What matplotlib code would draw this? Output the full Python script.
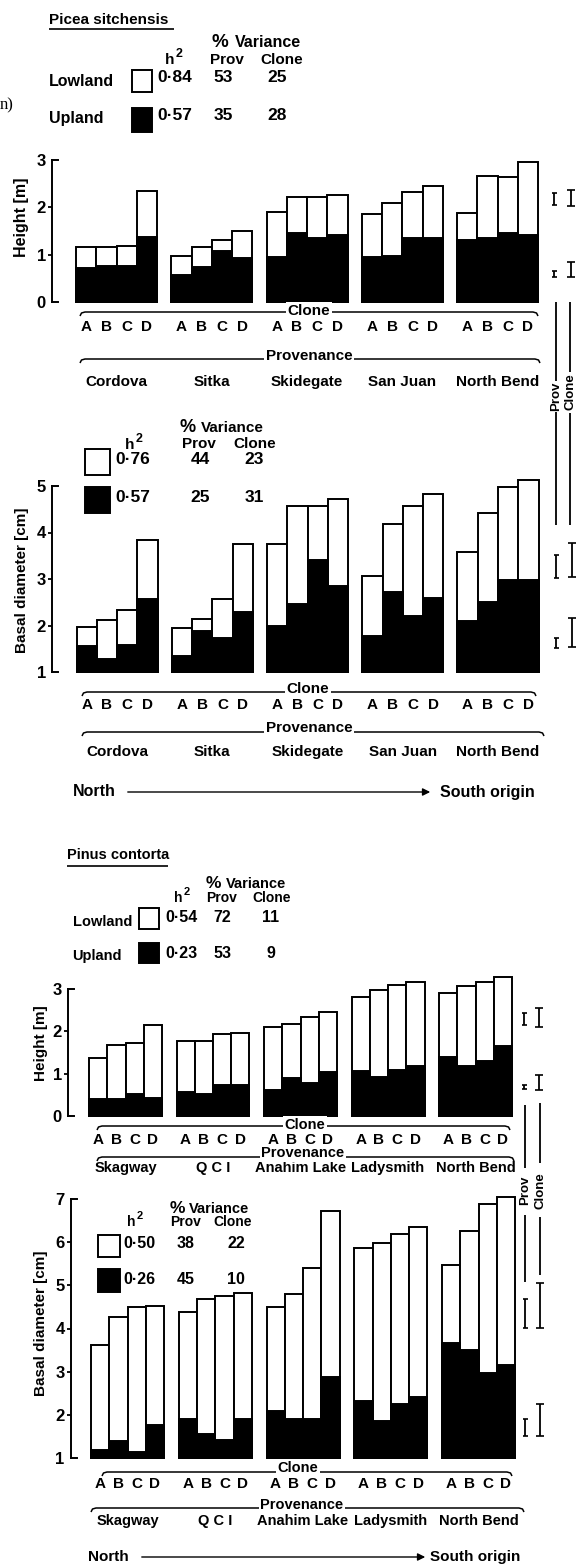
import numpy as np
import matplotlib
matplotlib.use("Agg")
import matplotlib.pyplot as plt
import matplotlib.transforms as mtransforms
from matplotlib.patches import Rectangle, FancyArrowPatch
from matplotlib.lines import Line2D

# ---------------- data ----------------
clones = ["A", "B", "C", "D"]
picea_provs = ["Cordova", "Sitka", "Skidegate", "San Juan", "North Bend"]
pinus_provs = ["Skagway", "Q C I", "Anahim Lake", "Ladysmith", "North Bend"]

picea_h_low = [[1.17, 1.17, 1.18, 2.35], [0.98, 1.16, 1.31, 1.50], [1.91, 2.21, 2.21, 2.26],
               [1.85, 2.10, 2.33, 2.46], [1.87, 2.66, 2.65, 2.96]]
picea_h_up = [[0.71, 0.75, 0.75, 1.37], [0.58, 0.74, 1.08, 0.94], [0.95, 1.45, 1.36, 1.41],
              [0.95, 0.97, 1.35, 1.35], [1.31, 1.35, 1.45, 1.42]]

picea_d_low = [[1.97, 2.12, 2.34, 3.83], [1.94, 2.15, 2.57, 3.76], [3.76, 4.57, 4.57, 4.72],
               [3.07, 4.18, 4.57, 4.82], [3.57, 4.41, 4.97, 5.13]]
picea_d_up = [[1.55, 1.29, 1.59, 2.57], [1.35, 1.89, 1.74, 2.30], [1.99, 2.46, 3.40, 2.86],
              [1.78, 2.71, 2.21, 2.60], [2.09, 2.50, 2.98, 2.98]]

pinus_h_low = [[1.36, 1.68, 1.73, 2.14], [1.77, 1.78, 1.93, 1.95], [2.11, 2.17, 2.34, 2.46],
               [2.82, 2.98, 3.10, 3.16], [2.90, 3.06, 3.16, 3.29]]
pinus_h_up = [[0.41, 0.41, 0.53, 0.42], [0.56, 0.51, 0.73, 0.73], [0.61, 0.89, 0.79, 1.03],
              [1.07, 0.93, 1.08, 1.17], [1.40, 1.18, 1.29, 1.66]]

pinus_d_low = [[3.61, 4.26, 4.49, 4.53], [4.39, 4.68, 4.75, 4.82], [4.49, 4.79, 5.39, 6.73],
               [5.87, 5.99, 6.19, 6.34], [5.47, 6.27, 6.88, 7.04]]
pinus_d_up = [[1.19, 1.39, 1.14, 1.76], [1.91, 1.56, 1.41, 1.90], [2.10, 1.90, 1.90, 2.87],
              [2.33, 1.85, 2.26, 2.41], [3.66, 3.51, 2.97, 3.16]]

# LSD bars (low, high) : [upper (lowland), lower (upland)]
picea_h_lsd_prov = [(2.05, 2.30), (0.53, 0.65)]
picea_h_lsd_clone = [(2.02, 2.36), (0.52, 0.85)]
picea_d_lsd_prov = [(3.02, 3.52), (1.52, 1.73)]
picea_d_lsd_clone = [(3.04, 3.77), (1.54, 2.16)]
pinus_h_lsd_prov = [(2.15, 2.43), (0.64, 0.73)]
pinus_h_lsd_clone = [(2.10, 2.55), (0.61, 0.97)]
pinus_d_lsd_prov = [(4.01, 4.68), (1.51, 1.90)]
pinus_d_lsd_clone = [(4.01, 5.05), (1.51, 2.25)]

picea_h_legend = [("Lowland", "0·84", "53", "25"), ("Upland", "0·57", "35", "28")]
picea_d_legend = [("", "0·76", "44", "23"), ("", "0·57", "25", "31")]
pinus_h_legend = [("Lowland", "0·54", "72", "11"), ("Upland", "0·23", "53", "9")]
pinus_d_legend = [("", "0·50", "38", "22"), ("", "0·26", "45", "10")]

# ---------------- figure ----------------
W, H = 583, 1565
FONT = ["Liberation Sans", "DejaVu Sans"]
plt.rcParams["font.family"] = FONT
plt.rcParams["font.weight"] = "bold"
fig = plt.figure(figsize=(W / 100, H / 100), dpi=100)


def fx(x):
    return x / W


def fy(y):
    return 1 - y / H


def T(x, y, s, size=11, ha="left", va="center", weight="bold", **kw):
    fig.text(fx(x), fy(y), s, fontsize=size, ha=ha, va=va, fontweight=weight, **kw)


def fline(xs, ys, lw=1.1):
    fig.add_artist(Line2D([fx(v) for v in xs], [fy(v) for v in ys], color="black",
                          lw=lw, transform=fig.transFigure, solid_capstyle="butt"))


def box(x0, x1, y0, y1, filled):
    fig.add_artist(Rectangle((fx(x0), fy(y1)), fx(x1) - fx(x0), fy(y0) - fy(y1),
                             transform=fig.transFigure, facecolor="black" if filled else "white",
                             edgecolor="black", lw=1.4))


def bracket(x0, x1, y, label, lx, ly, size=11):
    xs = [x0, x0 + 1.5, x0 + 5, x1 - 5, x1 - 1.5, x1]
    ys = [y + 4, y + 1, y, y, y + 1, y + 4]
    fline(xs, ys, lw=1.1)
    fig.text(fx(lx), fy(ly), label, fontsize=size, ha="center", va="center", fontweight="bold",
             bbox=dict(facecolor="white", edgecolor="none", pad=1.2))


def panel(spine_x, ytop, ybot, ymin, ymax, first_bar, bar_w, step, low, up,
          lsd_prov, lsd_clone, lsd_x, provs, abcd_y, names_y, names_size,
          ylabel, ylab_x, ylab_y, ylab_size):
    right = 582
    ax = fig.add_axes([fx(spine_x), fy(ybot), (right - spine_x) / W, (ybot - ytop) / H])
    ax.patch.set_alpha(0)
    s = step / bar_w
    x0 = -(first_bar - spine_x) / bar_w
    ax.set_xlim(x0, x0 + (right - spine_x) / bar_w)
    ax.set_ylim(ymin, ymax)
    for g in range(5):
        xs = np.array([g * s + c for c in range(4)])
        b1 = ax.bar(xs, np.array(low[g]) - ymin, bottom=ymin, width=1, align="edge",
                    color="white", edgecolor="black", lw=1.4, zorder=2)
        b2 = ax.bar(xs, np.array(up[g]) - ymin, bottom=ymin, width=1, align="edge",
                    color="black", edgecolor="black", lw=1.4, zorder=3)
        for p in list(b1) + list(b2):
            p.set_clip_on(False)
    for sp in ["top", "right", "bottom"]:
        ax.spines[sp].set_visible(False)
    ax.spines["left"].set_linewidth(1.4)
    ax.set_xticks([])
    ticks = list(range(int(ymin), int(ymax) + 1))
    ax.set_yticks(ticks)
    ax.set_yticklabels([str(t) for t in ticks], fontsize=12, fontweight="bold")
    ax.tick_params(axis="y", direction="out", length=3, width=1.3, pad=1.5)
    mt = ax.yaxis.get_major_ticks()
    mt[0].tick1line.set_visible(False)
    mt[-1].tick1line.set_visible(False)
    stub = 6 / ((right - spine_x))
    tr = ax.get_yaxis_transform()
    for yv in (ymin, ymax):
        ax.plot([0, stub], [yv, yv], color="black", lw=1.4, transform=tr, clip_on=False)

    def px2x(px):
        return x0 + (px - spine_x) / bar_w
    for (lo, hi) in lsd_prov:
        ax.errorbar([px2x(lsd_x[0])], [(lo + hi) / 2], yerr=[(hi - lo) / 2], fmt="none",
                    ecolor="black", elinewidth=1.3, capsize=1.8, capthick=1.2, clip_on=False)
    for (lo, hi) in lsd_clone:
        ax.errorbar([px2x(lsd_x[1])], [(lo + hi) / 2], yerr=[(hi - lo) / 2], fmt="none",
                    ecolor="black", elinewidth=1.3, capsize=2.6, capthick=1.2, clip_on=False)
    bt = mtransforms.blended_transform_factory(ax.transData, fig.transFigure)
    for g in range(5):
        for c in range(4):
            ax.text(g * s + c + 0.5, fy(abcd_y), clones[c], transform=bt, ha="center",
                    va="center", fontsize=11, fontweight="bold")
        ax.text(g * s + 2, fy(names_y), provs[g], transform=bt, ha="center", va="center",
                fontsize=names_size, fontweight="bold")
    fig.text(fx(ylab_x), fy(ylab_y), ylabel, rotation=90, ha="center", va="center",
             fontsize=ylab_size, fontweight="bold")
    return ax


def legend_block(rows, pct_x, var_x, var_base, var_size, h_xy, hdr_y, prov_x, clone_x, hdr_size,
                 lab_x, box_x, box_ys, num_x, num_ys, lab_ys, num_size, lab_size, colnum_x):
    T(pct_x, var_base, "%", size=var_size + 2, va="baseline")
    T(var_x, var_base, "Variance", size=var_size, va="baseline")
    T(h_xy[0], h_xy[1], "h", size=hdr_size, ha="center")
    T(h_xy[0] + 9, h_xy[1] - 6, "2", size=hdr_size - 2, ha="center")
    T(prov_x, hdr_y, "Prov", size=hdr_size, ha="center")
    T(clone_x, hdr_y, "Clone", size=hdr_size, ha="center")
    for i, (lab, h2, pv, cv) in enumerate(rows):
        if lab:
            T(lab_x[i], lab_ys[i], lab, size=lab_size)
        box(box_x[0], box_x[1], box_ys[i][0], box_ys[i][1], filled=(i == 1))
        T(num_x, num_ys[i], h2, size=num_size)
        T(colnum_x[0], num_ys[i], pv, size=num_size, ha="center")
        T(colnum_x[1], num_ys[i], cv, size=num_size, ha="center")


# ---------------- Picea sitchensis ----------------
T(0, 105, "n)", size=12, weight="normal", family=["Liberation Serif", "DejaVu Serif"])
T(49, 19.5, "Picea sitchensis", size=11)
fline([49, 174], [28.5, 28.5], lw=1.2)
legend_block(picea_h_legend, 212, 235, 47, 11.5, (170, 60), 60, 227, 282, 11,
             [49, 49], (132, 152), [(70, 92), (108, 132)], 157, [78, 115], [82, 118],
             12.5, 11.5, (223, 277))

panel(52, 160, 302, 0, 3, 76, 20.25, 95.25, picea_h_low, picea_h_up,
      picea_h_lsd_prov, picea_h_lsd_clone, (554, 571), picea_provs, 327, 382, 11,
      "Height [m]", 22, 217, 11.5)
bracket(80, 538, 312, "Clone", 309, 311)
bracket(80, 540, 359, "Provenance", 309, 356)

legend_block(picea_d_legend, 180, 201, 432, 11, (130, 445), 444, 199, 255, 11,
             [0, 0], (85, 110), [(449, 475), (487, 513)], 115, [459, 497], [0, 0],
             12.5, 11.5, (200, 254))
panel(52, 486, 672, 1, 5, 76.5, 20.25, 95.25, picea_d_low, picea_d_up,
      picea_d_lsd_prov, picea_d_lsd_clone, (556, 572), picea_provs, 705, 752, 11,
      "Basal diameter [cm]", 22, 580, 11)
bracket(82, 536, 692, "Clone", 308, 689)
bracket(82, 544, 732, "Provenance", 309, 728)

fline([556, 556], [302, 381], lw=1.3)
fline([556, 556], [412, 525], lw=1.3)
fline([570, 570], [302, 372], lw=1.3)
fline([570, 570], [413, 525], lw=1.3)
fig.text(fx(556), fy(396), "Prov", rotation=90, ha="center", va="center", fontsize=9.5,
         fontweight="bold")
fig.text(fx(570.5), fy(392), "Clone", rotation=90, ha="center", va="center", fontsize=9.5,
         fontweight="bold")

T(73, 792, "North", size=11.5)
fig.add_artist(FancyArrowPatch((fx(125), fy(792)), (fx(433), fy(792)), transform=fig.transFigure,
                               arrowstyle="-|>", mutation_scale=11, lw=1.0, color="black"))
T(440, 792, "South origin", size=11.5)

# ---------------- Pinus contorta ----------------
T(67, 855.5, "Pinus contorta", size=10.5)
fline([67, 168], [865.5, 865.5], lw=1.2)
legend_block(pinus_h_legend, 206, 226, 888, 10.5, (178, 898), 898, 222, 272, 10,
             [73, 72], (139, 159), [(908, 929), (943, 963)], 165, [918, 954], [921.5, 956.5],
             11.5, 10.5, (222.5, 271))

panel(68, 989, 1116, 0, 3, 89, 18.25, 87.5, pinus_h_low, pinus_h_up,
      pinus_h_lsd_prov, pinus_h_lsd_clone, (524, 539), pinus_provs, 1140, 1168, 10.5,
      "Height [m]", 41, 1043, 11)
bracket(97, 510, 1126, "Clone", 305, 1125, size=10.5)
bracket(97, 514, 1157, "Provenance", 303, 1153, size=10.5)

legend_block(pinus_d_legend, 170, 189, 1213, 10.5, (131, 1222), 1222, 186, 233, 10,
             [0, 0], (98, 120), [(1235, 1257), (1269, 1292)], 123, [1244, 1280], [0, 0],
             11.5, 10.5, (186, 236))
panel(71, 1199, 1458, 1, 7, 91, 18.25, 87.75, pinus_d_low, pinus_d_up,
      pinus_d_lsd_prov, pinus_d_lsd_clone, (525, 540), pinus_provs, 1484, 1521, 10.5,
      "Basal diameter [cm]", 41, 1323, 11)
bracket(102, 512, 1472, "Clone", 298, 1468, size=10.5)
bracket(91, 524, 1508, "Provenance", 302, 1505, size=10.5)

fline([525, 525], [1105, 1168], lw=1.3)
fline([525, 525], [1215, 1282], lw=1.3)
fline([540, 540], [1103, 1163], lw=1.3)
fline([540, 540], [1217, 1275], lw=1.3)
fig.text(fx(525), fy(1190), "Prov", rotation=90, ha="center", va="center", fontsize=9.5,
         fontweight="bold")
fig.text(fx(540.5), fy(1191), "Clone", rotation=90, ha="center", va="center", fontsize=9.5,
         fontweight="bold")

T(88, 1557, "North", size=11)
fig.add_artist(FancyArrowPatch((fx(139), fy(1557)), (fx(428), fy(1557)), transform=fig.transFigure,
                               arrowstyle="-|>", mutation_scale=11, lw=1.0, color="black"))
T(430, 1557, "South origin", size=11)

fig.savefig("out.png", dpi=100)
